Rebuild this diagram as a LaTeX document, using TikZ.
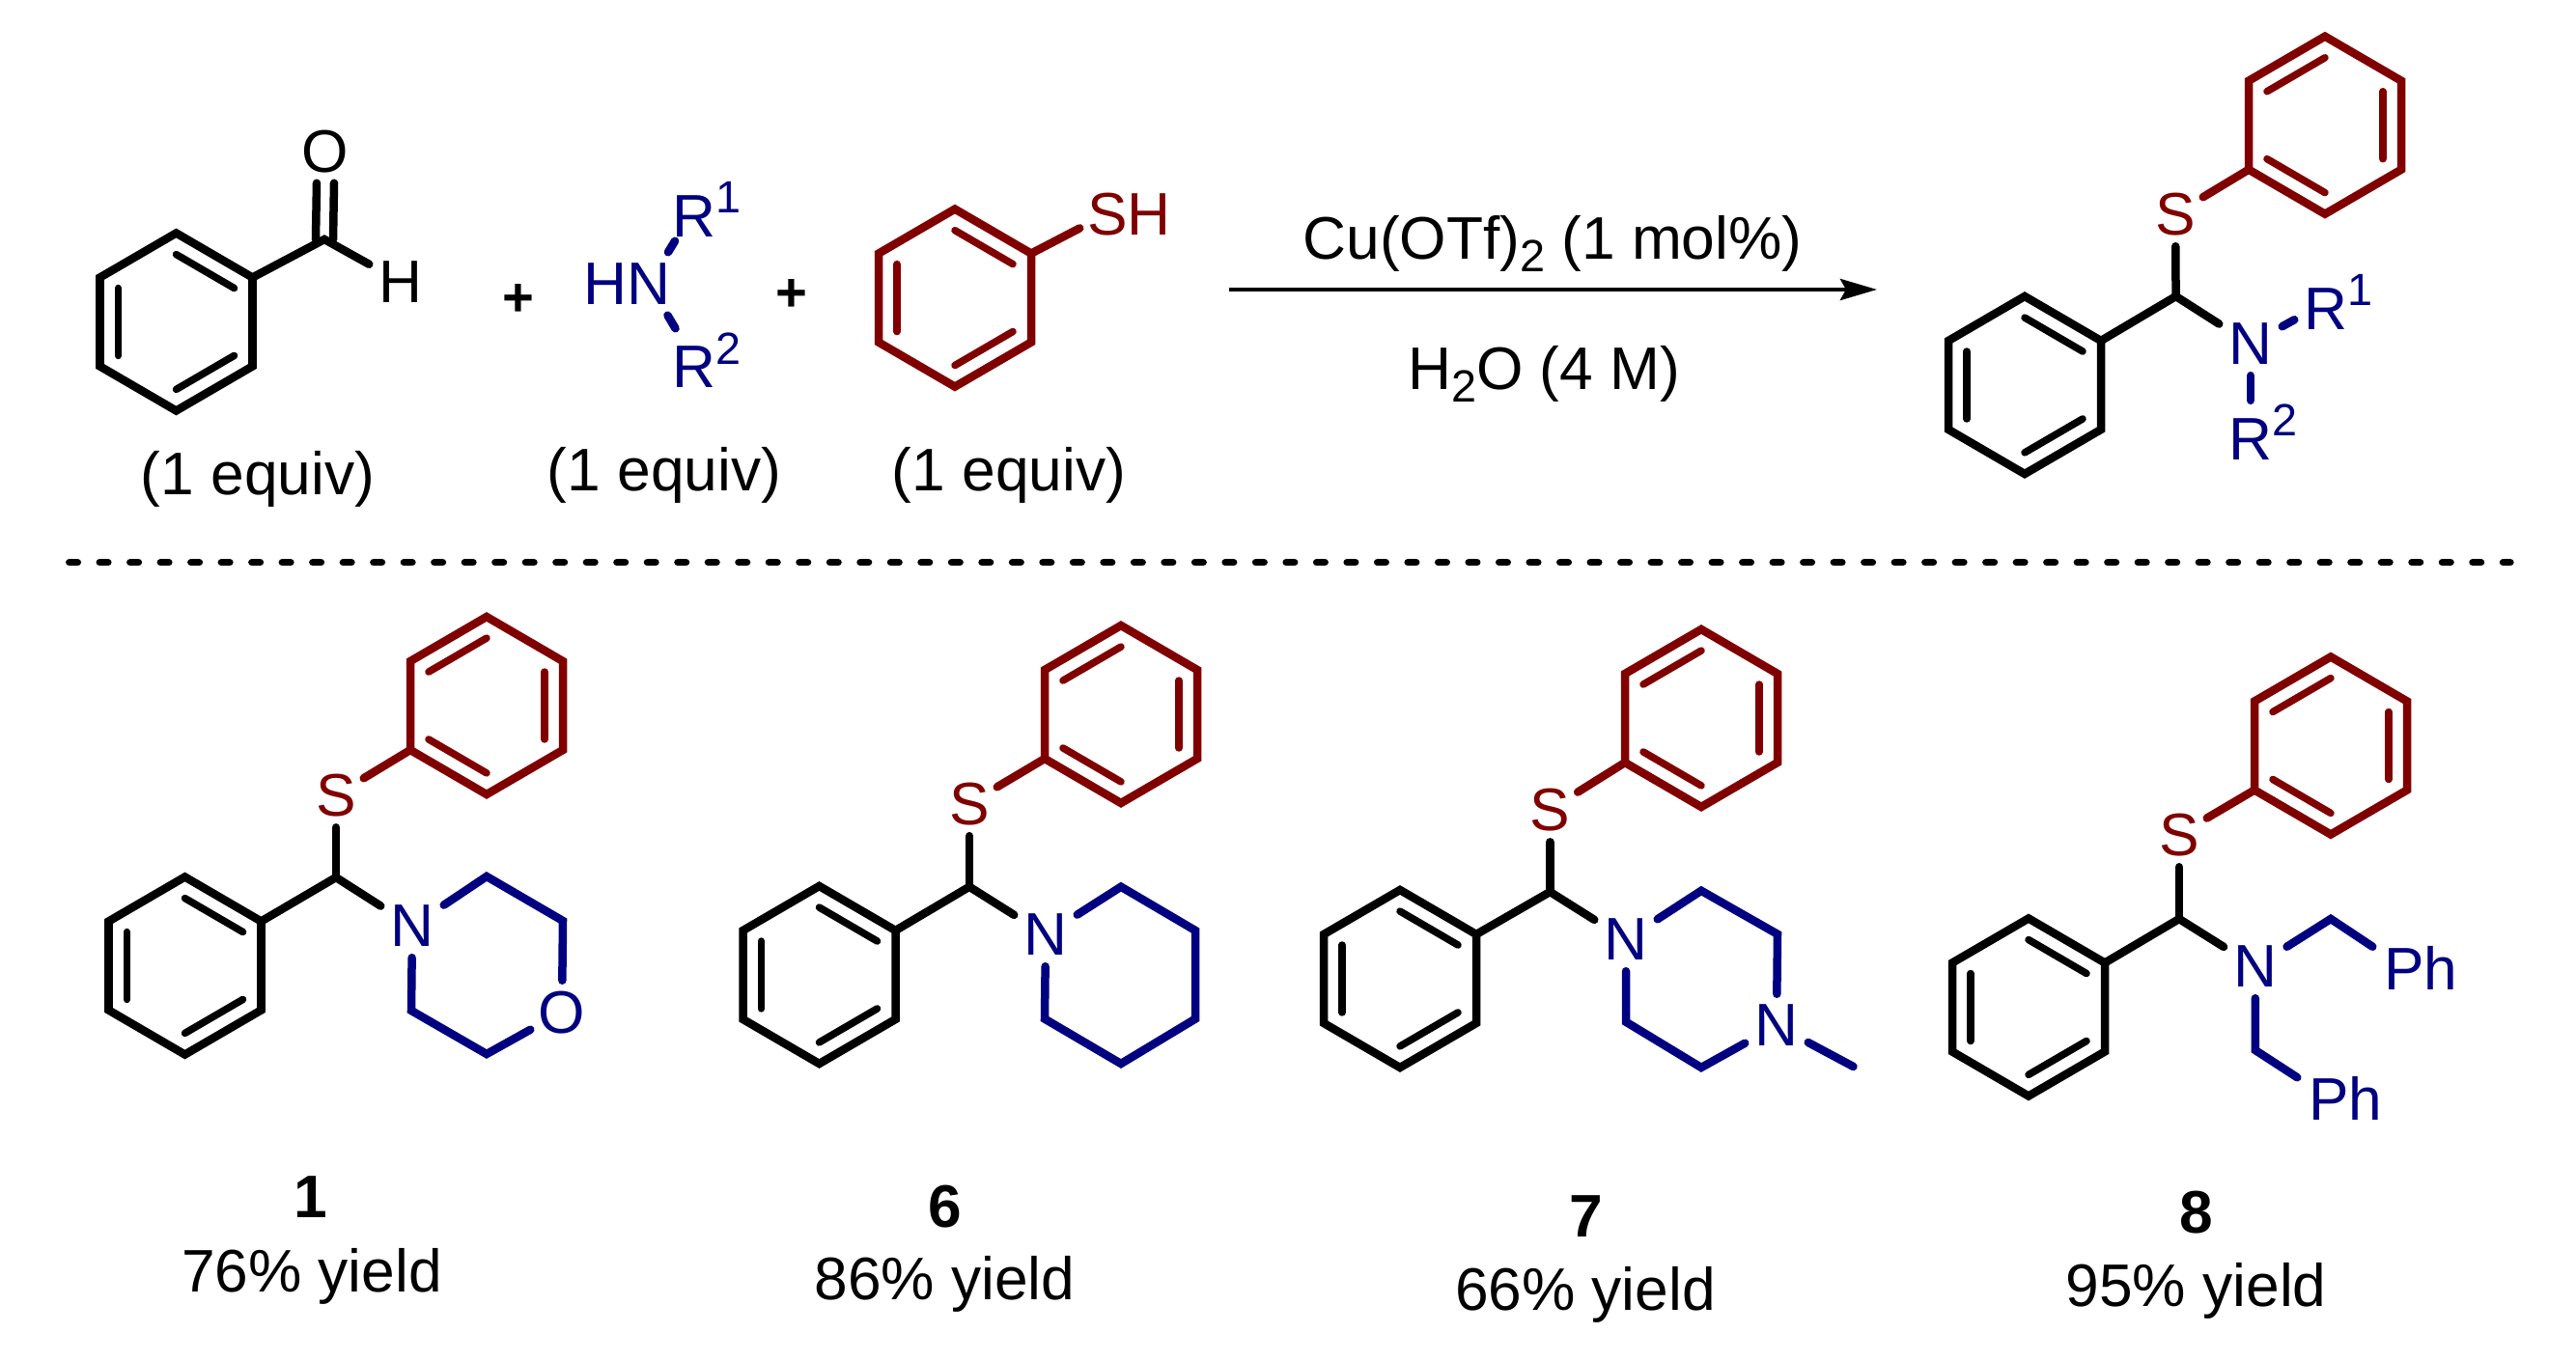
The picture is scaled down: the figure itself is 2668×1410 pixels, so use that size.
\documentclass[tikz,border=0pt]{standalone}
\usepackage{fontspec}
\setmainfont{Liberation Sans}
\usetikzlibrary{calc,arrows.meta}
\definecolor{chemred}{HTML}{800000}
\definecolor{chemblue}{HTML}{000080}
\newcommand\chemfont{\fontsize{17.7pt}{20pt}\selectfont}
\newcommand\chemsmall{\fontsize{13.3pt}{14pt}\selectfont}
\newcommand\supt[1]{\raisebox{7pt}{\chemsmall #1}}
\newcommand\subt[1]{\raisebox{-3.8pt}{\chemsmall #1}}
\tikzset{
  bond/.style={line width=0.085cm,line cap=round,line join=miter,miter limit=10},
  inner/.style={line width=0.075cm,line cap=round},
  atom/.style={rectangle,inner sep=0pt,minimum width=0.64cm,minimum height=0.64cm,font=\chemfont,text depth=0pt},
  sulfur/.style={atom,minimum width=0.56cm,minimum height=0.66cm,text=chemred},
  natom/.style={atom,text=chemblue},
  txt/.style={inner sep=0pt,anchor=base,font=\chemfont},
  plus/.style={inner sep=0pt,font=\bfseries\fontsize{16pt}{16pt}\selectfont},
}
% prefix, cx, cy, colour, 0 = inner bonds a-b,c-d,e-f / 1 = f-a,b-c,d-e
\newcommand\benz[5]{%
  \coordinate (#1o) at (#2,#3);
  \coordinate (#1a) at (#2,#3-92);
  \coordinate (#1b) at (#2+79,#3-46);
  \coordinate (#1c) at (#2+79,#3+46);
  \coordinate (#1d) at (#2,#3+92);
  \coordinate (#1e) at (#2-79,#3+46);
  \coordinate (#1f) at (#2-79,#3-46);
  \draw[bond,#4] (#1a) -- (#1b) -- (#1c) -- (#1d) -- (#1e) -- (#1f) -- cycle;
  \ifnum#5=0
    \draw[inner,#4] ($(#1o)!.76!(#1a)$) -- ($(#1o)!.76!(#1b)$);
    \draw[inner,#4] ($(#1o)!.76!(#1c)$) -- ($(#1o)!.76!(#1d)$);
    \draw[inner,#4] ($(#1o)!.76!(#1e)$) -- ($(#1o)!.76!(#1f)$);
  \else
    \draw[inner,#4] ($(#1o)!.76!(#1f)$) -- ($(#1o)!.76!(#1a)$);
    \draw[inner,#4] ($(#1o)!.76!(#1b)$) -- ($(#1o)!.76!(#1c)$);
    \draw[inner,#4] ($(#1o)!.76!(#1d)$) -- ($(#1o)!.76!(#1e)$);
  \fi
}
% common skeleton: prefix, CH coordinate, S node, N node placed already
\newcommand\core[1]{%
  \draw[bond] (#1Bb) -- (#1ch) -- (#1n);
  \draw[bond] (#1ch) -- (#1s);
  \draw[bond,chemred] (#1s) -- (#1Re);
}
\begin{document}
\begin{tikzpicture}[x=0.01cm,y=-0.01cm]
\useasboundingbox (0,0) rectangle (2668,1410);

%% benzaldehyde
\benz{ald}{182.5}{333.5}{black}{0}
\coordinate (aldc) at (336,248);
\node[atom] (aldO) at (337,157) {O};
\node[atom] (aldH) at (415,292) {H};
\draw[bond] (aldb) -- (aldc) -- (aldH);
\draw[bond] ([xshift=-0.09cm]aldc) -- ([xshift=-0.09cm]aldO.south);
\draw[bond] ([xshift=0.09cm]aldc) -- ([xshift=0.09cm]aldO.south);
\node[txt] (eq1) at (267,513) {(1 equiv)};

\node[plus] (p1) at (537,311) {+};

%% amine
\node[natom] (amN) at (672,294) {\llap{H}N};
\node[natom] (amR1) at (719,217) {R\rlap{\supt{1}}};
\node[natom] (amR2) at (719,373) {R\rlap{\supt{2}}};
\draw[bond,chemblue] (amN) -- (amR1);
\draw[bond,chemblue] (amN) -- (amR2);
\node[txt] (eq2) at (688,509) {(1 equiv)};

\node[plus] (p2) at (820,306) {+};

%% thiophenol
\benz{th}{989}{308.6}{chemred}{0}
\node[sulfur] (thS) at (1147,221.5) {S\rlap{H}};
\draw[bond,chemred] (thb) -- (thS);
\node[txt] (eq3) at (1045,509) {(1 equiv)};

%% arrow
\coordinate (arrS) at (1272.6,300);
\coordinate (arrE) at (1944,300);
\draw[line width=0.045cm,-{Stealth[length=0.38cm,width=0.22cm,inset=0.06cm]}] (arrS) -- (arrE);
\node[txt] (cat) at (1608,268.6) {Cu(OTf)\subt{2} (1 mol\%)};
\node[txt] (sol) at (1599,403.6) {H\subt{2}O (4 M)};

%% product
\benz{prR}{2408}{129.7}{chemred}{1}
\benz{prB}{2097}{399}{black}{0}
\coordinate (prch) at (2253.6,307);
\node[sulfur] (prs) at (2253,221.5) {S};
\node[natom] (prn) at (2331,356.5) {N};
\node[natom] (prR1) at (2409,313) {R\rlap{\supt{1}}};
\node[natom] (prR2) at (2331,447.5) {R\rlap{\supt{2}}};
\core{pr}
\draw[bond,chemblue] (prn) -- (prR1);
\draw[bond,chemblue] (prn) -- (prR2);

%% divider
\coordinate (divS) at (71.7,582.7);
\coordinate (divE) at (2600,582.7);
\draw[line width=0.073cm,line cap=round,dash pattern=on 2.48pt off 6.48pt] (divS) -- (divE);

%% compound 1
\benz{aR}{504}{731}{chemred}{1}
\benz{aB}{191.5}{1000.5}{black}{0}
\coordinate (ach) at (348,909);
\node[sulfur] (as) at (348,823.6) {S};
\node[natom] (an) at (427,959.5) {N};
\core{a}
\node[natom] (aO) at (582,1048.5) {O};
\coordinate (a1) at (504,908);
\coordinate (a2) at (583,954);
\coordinate (a3) at (504,1092);
\coordinate (a4) at (426,1047);
\draw[bond,chemblue] (an) -- (a1) -- (a2) -- (aO);
\draw[bond,chemblue] (aO) -- (a3) -- (a4) -- (an);
\node[txt,font=\bfseries\chemfont] (la) at (322,1262) {1};
\node[txt] (ya) at (323,1338.5) {76\% yield};

%% compound 6
\benz{bR}{1161}{740}{chemred}{1}
\benz{bB}{848.5}{1010}{black}{0}
\coordinate (bch) at (1004,918.7);
\node[sulfur] (bs) at (1004,832.4) {S};
\node[natom] (bn) at (1083,968.5) {N};
\core{b}
\coordinate (b1) at (1161,918.7);
\coordinate (b2) at (1238,964);
\coordinate (b3) at (1238,1055.6);
\coordinate (b4) at (1161,1102);
\coordinate (b5) at (1082,1055.6);
\draw[bond,chemblue] (bn) -- (b1) -- (b2) -- (b3) -- (b4) -- (b5) -- (bn);
\node[txt,font=\bfseries\chemfont] (lb) at (978.5,1271.5) {6};
\node[txt] (yb) at (978.5,1347) {86\% yield};

%% compound 7
\benz{cR}{1762}{744}{chemred}{1}
\benz{cB}{1450}{1014}{black}{0}
\coordinate (cch) at (1605.4,924);
\node[sulfur] (cs) at (1605.4,838.6) {S};
\node[natom] (cn) at (1684,973.5) {N};
\core{c}
\node[natom] (cn2) at (1840,1062.5) {N};
\coordinate (c1) at (1762,922.8);
\coordinate (c2) at (1841,967.8);
\coordinate (c3) at (1762,1106);
\coordinate (c4) at (1684,1058.7);
\coordinate (c5) at (1919.5,1105);
\draw[bond,chemblue] (cn) -- (c1) -- (c2) -- (cn2);
\draw[bond,chemblue] (cn2) -- (c3) -- (c4) -- (cn);
\draw[bond,chemblue] (cn2) -- (c5);
\node[txt,font=\bfseries\chemfont] (lc) at (1643,1281.8) {7};
\node[txt] (yc) at (1642,1357.5) {66\% yield};

%% compound 8
\benz{dR}{2414}{772.5}{chemred}{1}
\benz{dB}{2101}{1043.5}{black}{0}
\coordinate (dch) at (2257,952);
\node[sulfur] (ds) at (2257,864.5) {S};
\node[natom] (dn) at (2335.8,1001.5) {N};
\core{d}
\node[natom] (dp1) at (2490,1002.5) {P\rlap{h}};
\node[natom] (dp2) at (2412,1137.5) {P\rlap{h}};
\coordinate (d1) at (2414,952);
\coordinate (d2) at (2335.8,1088);
\draw[bond,chemblue] (dn) -- (d1) -- (dp1);
\draw[bond,chemblue] (dn) -- (d2) -- (dp2);
\node[txt,font=\bfseries\chemfont] (ld) at (2274.7,1277.7) {8};
\node[txt] (yd) at (2274.7,1354) {95\% yield};
\end{tikzpicture}
\end{document}
